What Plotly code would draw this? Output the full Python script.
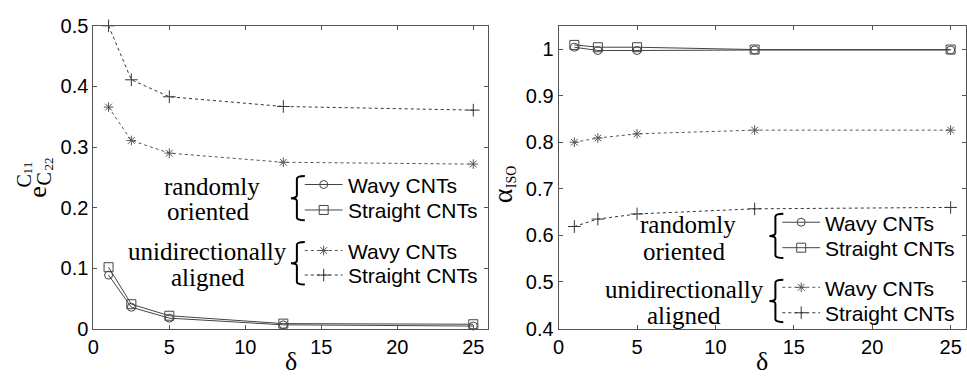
import plotly.graph_objects as go

# ---------------- data ----------------
delta = [1, 2.5, 5, 12.5, 25]

# left panel: e^{C11}_{C22}
e_rand_wavy = [0.089, 0.036, 0.018, 0.007, 0.005]
e_rand_straight = [0.102, 0.041, 0.022, 0.009, 0.008]
e_uni_wavy = [0.366, 0.311, 0.290, 0.275, 0.272]
e_uni_straight = [0.500, 0.411, 0.383, 0.367, 0.361]

# right panel: alpha_ISO
a_rand_wavy = [1.004, 0.997, 0.997, 0.998, 0.998]
a_rand_straight = [1.009, 1.004, 1.004, 0.999, 0.999]
a_uni_wavy = [0.800, 0.809, 0.818, 0.826, 0.826]
a_uni_straight = [0.619, 0.635, 0.646, 0.657, 0.660]

x_ticks = [0, 5, 10, 15, 20, 25]
left_yticks = [0, 0.1, 0.2, 0.3, 0.4, 0.5]
left_ylabels = ["0", "0.1", "0.2", "0.3", "0.4", "0.5"]
right_yticks = [0.4, 0.5, 0.6, 0.7, 0.8, 0.9, 1.0]
right_ylabels = ["0.4", "0.5", "0.6", "0.7", "0.8", "0.9", "1"]

series_names = ["Wavy CNTs", "Straight CNTs", "Wavy CNTs", "Straight CNTs"]
group_names = [["randomly", "oriented"], ["unidirectionally", "aligned"]]

# ---------------- layout geometry (pixels) ----------------
W, H = 967, 386
SANS = "Liberation Sans"
SERIF = "Liberation Serif"
AX = "#555555"

L_X0, L_X1, L_Y0, L_Y1 = 88.0, 486.0, 337.3, 15.7   # left panel box
R_X0, R_X1, R_Y0, R_Y1 = 556.7, 967.0, 336.7, 15.7  # right panel box
L_XR, L_YR = (0, 26), (0, 0.5)
R_XR, R_YR = (0, 25.98), (0.4, 1.05)


def px2paper(px, py):
    return px / W, 1 - py / H


def make_conv(x0, x1, y0, y1, xr, yr):
    def conv(px, py):
        xd = xr[0] + (px - x0) / (x1 - x0) * (xr[1] - xr[0])
        yd = yr[0] + (y0 - py) / (y0 - y1) * (yr[1] - yr[0])
        return xd, yd
    return conv


styles = [
    dict(symbol="circle-open", size=8, dash="solid", color="#444444"),
    dict(symbol="square-open", size=9, dash="solid", color="#444444"),
    dict(symbol="asterisk-open", size=8, dash="dot", color="#555555"),
    dict(symbol="cross-thin-open", size=9, dash="dot", color="#333333"),
]

fig = go.Figure()

left_series = [e_rand_wavy, e_rand_straight, e_uni_wavy, e_uni_straight]
right_series = [a_rand_wavy, a_rand_straight, a_uni_wavy, a_uni_straight]

for axes, data in [(("x", "y"), left_series), (("x2", "y2"), right_series)]:
    for st, ys in zip(styles, data):
        fig.add_trace(go.Scatter(
            x=delta, y=ys, xaxis=axes[0], yaxis=axes[1], mode="lines+markers",
            line=dict(color=st["color"], width=1, dash=st["dash"]),
            marker=dict(symbol=st["symbol"], size=st["size"], color=st["color"],
                        line=dict(width=1, color=st["color"])),
            cliponaxis=False, showlegend=False, hoverinfo="skip"))


def axis_common():
    return dict(showgrid=False, zeroline=False, showline=True, linecolor=AX, linewidth=1,
                mirror="allticks", ticks="inside", ticklen=4, tickcolor=AX, tickwidth=1,
                tickfont=dict(family=SANS, size=20, color="black"))


fig.update_layout(
    width=W, height=H, margin=dict(l=0, r=0, t=0, b=0),
    paper_bgcolor="white", plot_bgcolor="rgba(0,0,0,0)", showlegend=False,
    xaxis=dict(domain=[L_X0 / W, L_X1 / W], range=list(L_XR), tickvals=x_ticks, anchor="y",
               **axis_common()),
    yaxis=dict(domain=[1 - L_Y0 / H, 1 - L_Y1 / H], range=list(L_YR), tickvals=left_yticks,
               ticktext=left_ylabels, anchor="x", **axis_common()),
    xaxis2=dict(domain=[R_X0 / W, 1.0], range=list(R_XR), tickvals=x_ticks, anchor="y2",
                **axis_common()),
    yaxis2=dict(domain=[1 - R_Y0 / H, 1 - R_Y1 / H], range=list(R_YR), tickvals=right_yticks,
                ticktext=right_ylabels, anchor="x2", **axis_common()),
)

annotations = []
shapes = []


def add_text(px, py, text, size, family, xanchor="center", angle=0):
    x, y = px2paper(px, py)
    annotations.append(dict(x=x, y=y, xref="paper", yref="paper", text=text, showarrow=False,
                            xanchor=xanchor, yanchor="middle", textangle=angle,
                            font=dict(family=family, size=size, color="black")))


def brace(x_tip, x_v, x_end, y_top, y_bot):
    y_mid = (y_top + y_bot) / 2
    r = 3
    pts = [("M", [(x_end, y_top)]),
           ("Q", [(x_v, y_top), (x_v, y_top + r)]),
           ("L", [(x_v, y_mid - r)]),
           ("Q", [(x_v, y_mid), (x_tip, y_mid)]),
           ("Q", [(x_v, y_mid), (x_v, y_mid + r)]),
           ("L", [(x_v, y_bot - r)]),
           ("Q", [(x_v, y_bot), (x_end, y_bot)])]
    parts = []
    for cmd, ps in pts:
        coords = " ".join("{:.5f},{:.5f}".format(*px2paper(a, b)) for a, b in ps)
        parts.append(cmd + " " + coords)
    shapes.append(dict(type="path", path=" ".join(parts), xref="paper", yref="paper",
                       line=dict(color="black", width=2)))


def legend_block(p, conv, xa, ya):
    add_text(p["gx"] + 4, p["g1"][0], group_names[0][0], 25, SERIF)
    add_text(p["gx"], p["g1"][1], group_names[0][1], 25, SERIF)
    add_text(p["gx"], p["g2"][0], group_names[1][0], 25, SERIF)
    add_text(p["gx"], p["g2"][1], group_names[1][1], 25, SERIF)
    brace(p["bx"] - 6, p["bx"], p["bx"] + 8, p["b1"][0], p["b1"][1])
    brace(p["bx"] - 6, p["bx"], p["bx"] + 8, p["b2"][0], p["b2"][1])
    for i, (st, yy) in enumerate(zip(styles, p["s"])):
        xa0, ya0 = px2paper(p["lx"][0], yy)
        xa1, _ = px2paper(p["lx"][1], yy)
        shapes.append(dict(type="line", xref="paper", yref="paper", x0=xa0, x1=xa1,
                           y0=ya0, y1=ya0,
                           line=dict(color=st["color"], width=1, dash=st["dash"])))
        mx, my = conv((p["lx"][0] + p["lx"][1]) / 2, yy)
        fig.add_trace(go.Scatter(
            x=[mx], y=[my], xaxis=xa, yaxis=ya, mode="markers",
            marker=dict(symbol=st["symbol"], size=st["size"], color=st["color"],
                        line=dict(width=1, color=st["color"])),
            cliponaxis=False, showlegend=False, hoverinfo="skip"))
        add_text(p["tx"], yy + 1, series_names[i], 21, SANS, xanchor="left")


conv_left = make_conv(L_X0, L_X1, L_Y0, L_Y1, L_XR, L_YR)
conv_right = make_conv(R_X0, R_X1, R_Y0, R_Y1, R_XR, R_YR)

legend_block(dict(gx=203, g1=(186, 213), g2=(255, 283), bx=293, b1=(175, 222), b2=(245, 290),
                  lx=(301, 339), s=(184, 211, 254, 280), tx=342), conv_left, "x", "y")
legend_block(dict(gx=683, g1=(226, 255), g2=(295, 323), bx=775, b1=(215, 262), b2=(285, 330),
                  lx=(782, 820), s=(224, 251, 293, 320), tx=823), conv_right, "x2", "y2")

# axis titles (sub/superscripts drawn as separate small texts)
add_text(287, 372, "δ", 26, SERIF)
add_text(762, 372, "δ", 26, SERIF)
add_text(31, 192, "e", 26, SERIF, angle=-90)
add_text(18, 180, "C", 20, SERIF, angle=-90)
add_text(22, 166, "11", 13, SERIF, angle=-90)
add_text(38, 178, "C", 20, SERIF, angle=-90)
add_text(43, 162, "22", 13, SERIF, angle=-90)
add_text(500, 196, "α", 28, SERIF, angle=-90)
add_text(510, 176, "ISO", 14, SERIF, angle=-90)

fig.update_layout(annotations=annotations, shapes=shapes)
fig.write_html("out.html")
